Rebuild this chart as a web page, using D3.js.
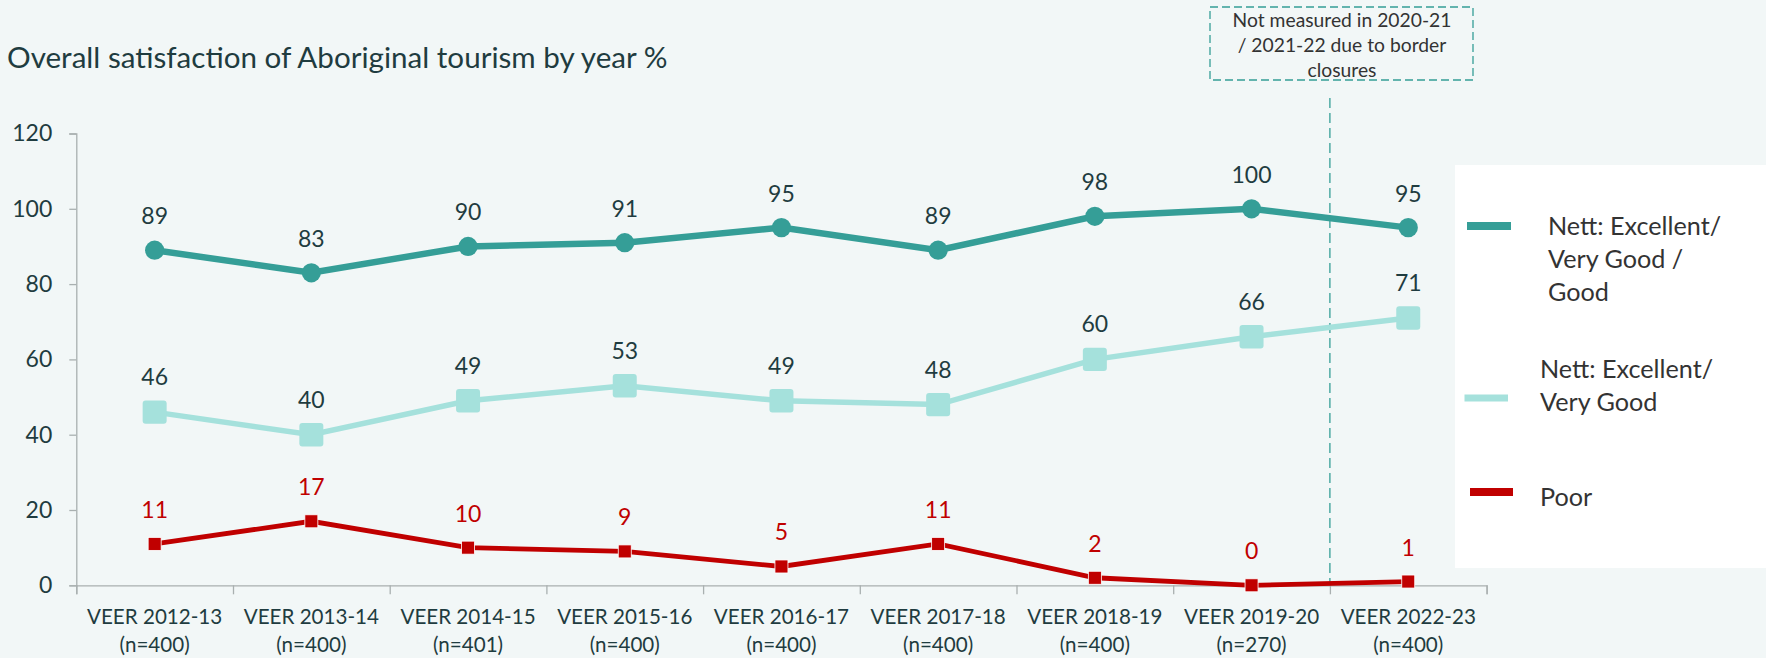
<!DOCTYPE html>
<html>
<head>
<meta charset="utf-8">
<script src="https://cdn.jsdelivr.net/npm/d3@7"></script>
<style>
    html, body { margin: 0; padding: 0; background: #f2f7f7; }
    svg { display: block; font-family: Lato, "Open Sans", sans-serif; }
</style>
</head>
<body>
<div id="chart"></div>
<script>
/* Data */
var categories = ["VEER 2012-13", "VEER 2013-14", "VEER 2014-15", "VEER 2015-16", "VEER 2016-17",
                  "VEER 2017-18", "VEER 2018-19", "VEER 2019-20", "VEER 2022-23"];
var samples    = ["(n=400)", "(n=400)", "(n=401)", "(n=400)", "(n=400)",
                  "(n=400)", "(n=400)", "(n=270)", "(n=400)"];
var goodValues     = [89, 83, 90, 91, 95, 89, 98, 100, 95];   // Excellent / Very Good / Good
var veryGoodValues = [46, 40, 49, 53, 49, 48, 60, 66, 71];    // Excellent / Very Good
var poorValues     = [11, 17, 10, 9, 5, 11, 2, 0, 1];         // Poor
var yTicks = [0, 20, 40, 60, 80, 100, 120];
var seriesNames = [["Nett: Excellent/", "Very Good /", "Good"], ["Nett: Excellent/", "Very Good"], ["Poor"]];
var noteLines = ["Not measured in 2020-21", "/ 2021-22 due to border", "closures"];
var title = "Overall satisfaction of Aboriginal tourism by year %";
var gapAfter = "VEER 2019-20"; // survey paused after this year

var WIDTH = 1766, HEIGHT = 658;
var DARK_TEAL = "#359e97", LIGHT_TEAL = "#a5e1dc", RED = "#c00000", TEXT = "#1f3c40";

var svg = d3.select("#chart").append("svg")
    .attr("width", WIDTH)
    .attr("height", HEIGHT);

/* Scales */
var x = d3.scaleBand()
    .domain(categories)
    .range([76.3, 1486.6]);
var xEdges = d3.scaleLinear()
    .domain([0, categories.length])
    .range(x.range());
var y = d3.scaleLinear()
    .domain([0, 120])
    .range([585.3, 133.5]);

function cx(d, i){ return x(categories[i]) + x.bandwidth() / 2; }

/* Title */
svg.append("text")
    .attr("x", 7)
    .attr("y", 68)
    .attr("font-size", 29.6)
    .attr("fill", TEXT)
    .text(title);

/* Axes */
var yAxis = svg.append("g")
    .attr("transform", "translate(" + x.range()[0] + ",0)")
    .call(d3.axisLeft(y).tickValues(yTicks).tickSize(7).tickPadding(17));
var xAxis = svg.append("g")
    .attr("transform", "translate(0," + y(0) + ")")
    .call(d3.axisBottom(xEdges).ticks(categories.length).tickSize(9).tickFormat(""));
svg.selectAll(".domain, .tick line").attr("stroke", "#a9b0b0").attr("stroke-width", 1.3);
yAxis.selectAll("text").attr("font-size", 23).attr("fill", TEXT).attr("font-family", "Lato");

var xLabels = svg.append("g").selectAll("text")
    .data(categories)
    .enter()
    .append("text")
        .attr("text-anchor", "middle")
        .attr("font-size", 20.6)
        .attr("fill", TEXT);
xLabels.append("tspan")
    .attr("x", function(d){ return x(d) + x.bandwidth() / 2; })
    .attr("y", 624)
    .text(function(d){ return d; });
xLabels.append("tspan")
    .attr("x", function(d){ return x(d) + x.bandwidth() / 2; })
    .attr("y", 652)
    .text(function(d, i){ return samples[i]; });

/* Gap marker and note */
var gapX = x(gapAfter) + x.bandwidth();
svg.append("line")
    .attr("x1", gapX).attr("x2", gapX)
    .attr("y1", 98).attr("y2", y(0))
    .attr("stroke", DARK_TEAL)
    .attr("stroke-width", 1.3)
    .attr("stroke-dasharray", "10,5");
svg.append("rect")
    .attr("x", 1210).attr("y", 7)
    .attr("width", 263).attr("height", 73)
    .attr("fill", "none")
    .attr("stroke", DARK_TEAL)
    .attr("stroke-width", 1.3)
    .attr("stroke-dasharray", "8,4");
svg.append("g").selectAll("text")
    .data(noteLines)
    .enter()
    .append("text")
        .attr("x", 1342)
        .attr("y", function(d, i){ return 27 + i * 25; })
        .attr("text-anchor", "middle")
        .attr("font-size", 19.3)
        .attr("fill", "#333")
        .text(function(d){ return d; });

/* Lines */
var line = d3.line()
    .x(cx)
    .y(function(d){ return y(d); });

svg.append("path").datum(goodValues)
    .attr("d", line).attr("fill", "none")
    .attr("stroke", DARK_TEAL).attr("stroke-width", 6.5);
svg.append("path").datum(veryGoodValues)
    .attr("d", line).attr("fill", "none")
    .attr("stroke", LIGHT_TEAL).attr("stroke-width", 5.5);
svg.append("path").datum(poorValues)
    .attr("d", line).attr("fill", "none")
    .attr("stroke", RED).attr("stroke-width", 4.8);

/* Markers */
svg.append("g").selectAll("circle")
    .data(goodValues)
    .enter()
    .append("circle")
        .attr("cx", cx)
        .attr("cy", function(d){ return y(d); })
        .attr("r", 9.6)
        .attr("fill", DARK_TEAL);
svg.append("g").selectAll("rect")
    .data(veryGoodValues)
    .enter()
    .append("rect")
        .attr("x", function(d, i){ return cx(d, i) - 12; })
        .attr("y", function(d){ return y(d) - 11.7; })
        .attr("width", 24).attr("height", 23.4)
        .attr("rx", 3)
        .attr("fill", LIGHT_TEAL);
svg.append("g").selectAll("rect")
    .data(poorValues)
    .enter()
    .append("rect")
        .attr("x", function(d, i){ return cx(d, i) - 6.5; })
        .attr("y", function(d){ return y(d) - 6.5; })
        .attr("width", 13).attr("height", 13)
        .attr("fill", RED)
        .attr("stroke", "#fff")
        .attr("stroke-width", 0.8);

/* Data labels */
function addLabels(values, colour, offset){
    svg.append("g").selectAll("text")
        .data(values)
        .enter()
        .append("text")
            .attr("x", cx)
            .attr("y", function(d){ return y(d) - offset; })
            .attr("text-anchor", "middle")
            .attr("font-size", 23)
            .attr("fill", colour)
            .text(function(d){ return d; });
}
addLabels(goodValues, TEXT, 26);
addLabels(veryGoodValues, TEXT, 27);
addLabels(poorValues, RED, 26);

/* Legend */
svg.append("rect")
    .attr("x", 1455).attr("y", 165)
    .attr("width", WIDTH - 1455).attr("height", 403)
    .attr("fill", "#fff");

var legendItems = [
    {colour: DARK_TEAL,  sw: [1467, 1511], sy: 226, size: 8, tx: 1548, ty: 235},
    {colour: LIGHT_TEAL, sw: [1464.5, 1508], sy: 398, size: 7, tx: 1540, ty: 377.7},
    {colour: RED,        sw: [1470, 1513], sy: 492, size: 8, tx: 1540, ty: 506}
];
legendItems.forEach(function(item, i){
    svg.append("line")
        .attr("x1", item.sw[0]).attr("x2", item.sw[1])
        .attr("y1", item.sy).attr("y2", item.sy)
        .attr("stroke", item.colour)
        .attr("stroke-width", item.size);
    svg.append("g").selectAll("text")
        .data(seriesNames[i])
        .enter()
        .append("text")
            .attr("x", item.tx)
            .attr("y", function(d, j){ return item.ty + j * 32.8; })
            .attr("font-size", 25.2)
            .attr("fill", "#333")
            .text(function(d){ return d; });
});
</script>
</body>
</html>
